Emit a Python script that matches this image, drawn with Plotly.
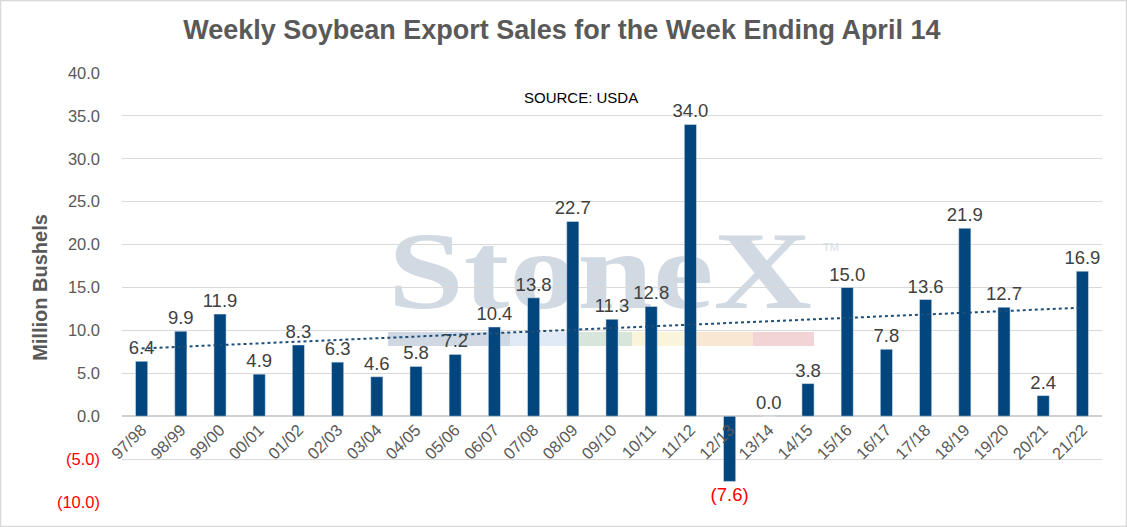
import base64
import numpy as np
import plotly.graph_objects as go

# marketing years and weekly export sales (million bushels)
years = ['97/98', '98/99', '99/00', '00/01', '01/02', '02/03', '03/04', '04/05',
         '05/06', '06/07', '07/08', '08/09', '09/10', '10/11', '11/12', '12/13',
         '13/14', '14/15', '15/16', '16/17', '17/18', '18/19', '19/20', '20/21',
         '21/22']
sales = [6.4, 9.9, 11.9, 4.9, 8.3, 6.3, 4.6, 5.8, 7.2, 10.4, 13.8, 22.7, 11.3,
         12.8, 34.0, -7.6, 0.0, 3.8, 15.0, 7.8, 13.6, 21.9, 12.7, 2.4, 16.9]
y_ticks = [-10, -5, 0, 5, 10, 15, 20, 25, 30, 35, 40]

BAR = '#03467e'
GREY = '#595959'
RED = '#ff0000'


def fmt(v):
    return f'({abs(v):.1f})' if v < 0 else f'{v:.1f}'


def tick_label(v):
    if v < 0:
        return f'<span style="color:{RED}">{fmt(v)}</span>'
    return fmt(v)


# linear trend, like Excel's trendline
idx = np.arange(len(sales))
slope, icpt = np.polyfit(idx, sales, 1)
trend = slope * idx + icpt

# watermark as an inline svg so it sits behind the grid and bars
svg = '''<svg xmlns="http://www.w3.org/2000/svg" width="460" height="125" viewBox="0 0 460 125">
<text x="3" y="83" font-family="Liberation Serif" font-weight="bold" font-size="110"
 fill="#d1d9e2" textLength="424" lengthAdjust="spacingAndGlyphs">StoneX</text>
<text x="438" y="26" font-family="Liberation Sans" font-size="11" fill="#d8dee6">TM</text>
<rect x="3" y="107" width="122" height="14" fill="#cfd8e3"/>
<rect x="125" y="107" width="57" height="14" fill="#dfeaf6"/>
<rect x="182" y="107" width="65" height="14" fill="#d7e5da"/>
<rect x="247" y="107" width="65" height="14" fill="#f8f5da"/>
<rect x="312" y="107" width="56" height="14" fill="#f9e7d4"/>
<rect x="368" y="107" width="61" height="14" fill="#f2d4d6"/>
</svg>'''
wm_src = 'data:image/svg+xml;base64,' + base64.b64encode(svg.encode()).decode()

fig = go.Figure()
fig.add_trace(go.Bar(
    x = years,
    y = sales,
    marker_color = BAR,
    text = [fmt(v) for v in sales],
    textposition = 'outside',
    constraintext = 'none',
    textfont = dict(size=18.5, color=[RED if v < 0 else '#404040' for v in sales]),
    cliponaxis = False,
    showlegend = False
))
fig.add_trace(go.Scatter(
    x = years,
    y = trend,
    mode = 'lines',
    line = dict(color='#1f4e79', width=2, dash='dot'),
    showlegend = False,
    hoverinfo = 'skip'
))

fig.update_layout(
    width = 1127,
    height = 527,
    margin = dict(l=122, r=25, t=73, b=25),
    paper_bgcolor = 'white',
    plot_bgcolor = 'white',
    font = dict(family='Liberation Sans, Arial', color=GREY),
    bargap = 0.69,
    title = dict(
        text = '<b>Weekly Soybean Export Sales for the Week Ending April 14</b>',
        x = 0.4985, xanchor = 'center', y = 0.943, yanchor = 'middle',
        font = dict(size=27, color=GREY)
    ),
    xaxis = dict(
        anchor = 'free', position = 0.2,
        tickangle = -45,
        tickfont = dict(size=16.5, color=GREY),
        showgrid = False,
        showline = False,
        ticks = ''
    ),
    yaxis = dict(
        range = [-10, 40],
        tickvals = y_ticks,
        ticktext = [tick_label(v) for v in y_ticks],
        tickfont = dict(size=16.5, color=GREY),
        gridcolor = '#d9d9d9',
        gridwidth = 1,
        zeroline = True,
        zerolinecolor = '#d0d0d0',
        zerolinewidth = 2,
        ticklabelstandoff = 21,
        title = dict(text='<b>Million Bushels</b>', font=dict(size=20, color=GREY), standoff=3)
    ),
    images = [dict(
        source = wm_src, xref = 'paper', yref = 'paper',
        x = (385 - 122) / 980, y = (502 - 225) / 429,
        sizex = 460 / 980, sizey = 125 / 429,
        xanchor = 'left', yanchor = 'top', sizing = 'stretch', layer = 'below'
    )],
    annotations = [dict(
        text = 'SOURCE: USDA', xref = 'paper', yref = 'paper',
        x = (581 - 122) / 980, y = (502 - 87) / 429,
        showarrow = False, font = dict(size=15, color='black')
    )],
    shapes = [dict(
        type = 'rect', xref = 'paper', yref = 'paper',
        x0 = -121.5 / 980, x1 = 1004.5 / 980,
        y0 = -24.5 / 429, y1 = 501.5 / 429,
        line = dict(color='#d9d9d9', width=1.5)
    )]
)

fig.write_html('out.html', config={'displayModeBar': False},
               post_script="document.body.style.margin='0';")
